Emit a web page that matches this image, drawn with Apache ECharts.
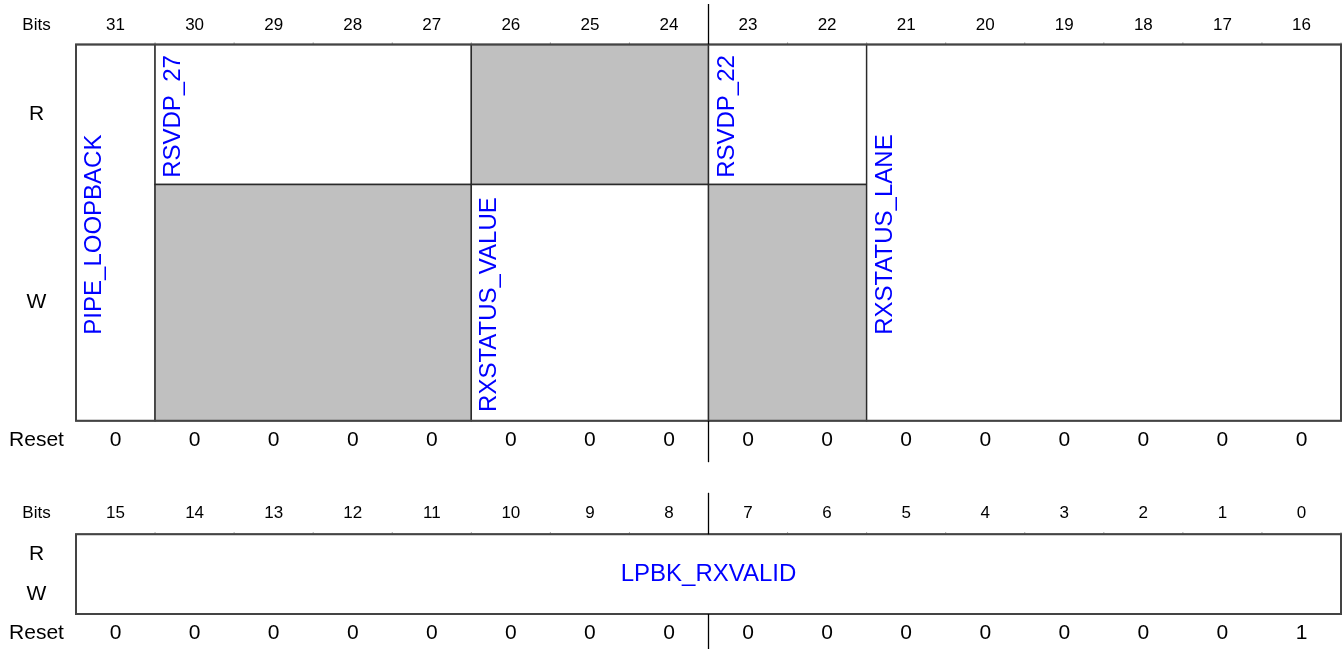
<!DOCTYPE html>
<html><head><meta charset="utf-8">
<script src="https://cdn.jsdelivr.net/npm/echarts@6/dist/echarts.min.js"></script>
<style>html,body{margin:0;padding:0;background:#fff}#c{width:1343px;height:649px}</style>
</head><body><div id="c"></div>
<script>
// ---- data ----
const topBits = [31,30,29,28,27,26,25,24,23,22,21,20,19,18,17,16];
const bottomBits = [15,14,13,12,11,10,9,8,7,6,5,4,3,2,1,0];
const resetTop = [0,0,0,0,0,0,0,0,0,0,0,0,0,0,0,0];
const resetBottom = [0,0,0,0,0,0,0,0,0,0,0,0,0,0,0,1];
const rowLabels = ['Bits','R','W','Reset'];
const fieldNames = ['PIPE_LOOPBACK','RSVDP_27','RXSTATUS_VALUE','RSVDP_22','RXSTATUS_LANE','LPBK_RXVALID'];
const fieldMsb = [31,30,26,23,21,15];
const fieldLsb = [31,27,24,22,16,0];
const fieldAccess = ['RW','R','W','R','RW','RW'];
const rowSplit = [0.372, 0.5]; // R/W boundary per table (fraction of table height)

// ---- styles ----
const FONT = '"Liberation Sans", Arial, Helvetica, sans-serif';
const GRAY = '#c0c0c0';
const BLUE = '#0000ff';

const tables = [
  {bits: topBits, reset: resetTop, min: 16, max: 32, split: rowSplit[0], vertical: true, divider: 24, dividerTop: 40.5, dividerBottom: 41.5, bitsOff: 19.5, resetOff: 19.5},
  {bits: bottomBits, reset: resetBottom, min: 0, max: 16, split: rowSplit[1], vertical: false, divider: 8, dividerTop: 41.5, dividerBottom: 40, bitsOff: 20.5, resetOff: 19.3}
];

function cellsFor(t) {
  const out = [];
  for (let i = 0; i < fieldNames.length; i++) {
    if (fieldMsb[i] < t.min || fieldMsb[i] >= t.max) continue;
    const a = fieldAccess[i];
    if (a === 'RW') out.push([fieldMsb[i], fieldLsb[i], 0, 1, 1, i]);
    else if (a === 'R') { out.push([fieldMsb[i], fieldLsb[i], 0, t.split, 1, i]); out.push([fieldMsb[i], fieldLsb[i], t.split, 1, 0, -1]); }
    else { out.push([fieldMsb[i], fieldLsb[i], 0, t.split, 0, -1]); out.push([fieldMsb[i], fieldLsb[i], t.split, 1, 1, i]); }
  }
  return out;
}

function txt(x, y, text, size, color, rot) {
  const el = {type: 'text', x: x, y: y,
    style: {text: text, fill: color, font: size + 'px ' + FONT, align: 'center', verticalAlign: 'middle', textAlign: 'center', textVerticalAlign: 'middle'}};
  if (rot) el.rotation = rot;
  return el;
}

const series = [];
tables.forEach((t, gi) => {
  const ax = {xAxisIndex: gi, yAxisIndex: gi};
  // cells
  series.push(Object.assign({
    type: 'custom', z: 2, silent: true,
    data: cellsFor(t),
    renderItem: (params, api) => {
      const p0 = api.coord([api.value(0) + 1, api.value(2)]);
      const p1 = api.coord([api.value(1), api.value(3)]);
      const filled = api.value(4) === 0;
      const idx = api.value(5);
      const children = [{
        type: 'rect',
        shape: {x: p0[0], y: p0[1], width: p1[0] - p0[0], height: p1[1] - p0[1]},
        style: {fill: filled ? GRAY : '#fff', stroke: '#2a2a2a', lineWidth: 1.4}
      }];
      if (idx >= 0) {
        if (t.vertical) children.push(txt(p0[0] + 18.5, (p0[1] + p1[1]) / 2 + 2, fieldNames[idx], 24, BLUE, Math.PI / 2));
        else children.push(txt((p0[0] + p1[0]) / 2, (p0[1] + p1[1]) / 2, fieldNames[idx], 24, BLUE));
      }
      return {type: 'group', children};
    }
  }, ax));
  // bit numbers + reset values
  series.push(Object.assign({
    type: 'custom', z: 3, silent: true,
    data: t.bits.map((b, i) => [b, t.reset[i]]),
    renderItem: (params, api) => {
      const top = api.coord([api.value(0) + 0.5, 0]);
      const bot = api.coord([api.value(0) + 0.5, 1]);
      const right = api.coord([api.value(0), 0]);
      return {type: 'group', children: [
        txt(top[0], top[1] - t.bitsOff, String(api.value(0)), 17, '#000'),
        txt(bot[0], bot[1] + t.resetOff, String(api.value(1)), 21, '#000'),
        {type: 'line', shape: {x1: right[0], y1: right[1] - 2, x2: right[0], y2: right[1]}, style: {stroke: '#888', lineWidth: 1}}
      ]};
    }
  }, ax));
  // row labels
  series.push(Object.assign({
    type: 'custom', z: 3, silent: true,
    data: rowLabels.map((l, i) => [t.max + 0.5, i]),
    renderItem: (params, api) => {
      const i = api.value(1);
      let y;
      if (i === 0) y = api.coord([0, 0])[1] - t.bitsOff;
      else if (i === 1) y = api.coord([0, t.split / 2])[1];
      else if (i === 2) y = api.coord([0, (t.split + 1) / 2])[1];
      else y = api.coord([0, 1])[1] + t.resetOff;
      const x = api.coord([api.value(0), 0])[0];
      return txt(x, y, rowLabels[i], i === 0 ? 17 : 21, '#000');
    }
  }, ax));
  // outer border + divider segments (above and below the table)
  series.push(Object.assign({
    type: 'custom', z: 4, silent: true,
    data: [[t.max, t.min, t.divider]],
    renderItem: (params, api) => {
      const p0 = api.coord([api.value(0), 0]);
      const p1 = api.coord([api.value(1), 1]);
      const d0 = api.coord([api.value(2), 0]);
      const d1 = api.coord([api.value(2), 1]);
      const ls = {stroke: '#000', lineWidth: 1.3};
      return {type: 'group', children: [
        {type: 'rect', shape: {x: p0[0], y: p0[1], width: p1[0] - p0[0], height: p1[1] - p0[1]}, style: {fill: null, stroke: '#444', lineWidth: 2}},
        {type: 'line', shape: {x1: d0[0], y1: d0[1] - t.dividerTop, x2: d0[0], y2: d0[1]}, style: ls},
        {type: 'line', shape: {x1: d1[0], y1: d1[1], x2: d1[0], y2: d1[1] + t.dividerBottom}, style: ls}
      ]};
    }
  }, ax));
});

const chart = echarts.init(document.getElementById('c'), null, {renderer: 'canvas'});
chart.setOption({
  animation: false,
  backgroundColor: '#fff',
  grid: [
    {left: 76, right: 2, top: 44.5, height: 376.2},
    {left: 76, right: 2, top: 534.3, height: 79.7}
  ],
  xAxis: tables.map((t, i) => ({type: 'value', gridIndex: i, min: t.min, max: t.max, inverse: true, show: false})),
  yAxis: tables.map((t, i) => ({type: 'value', gridIndex: i, min: 0, max: 1, inverse: true, show: false})),
  series
});
</script></body></html>
